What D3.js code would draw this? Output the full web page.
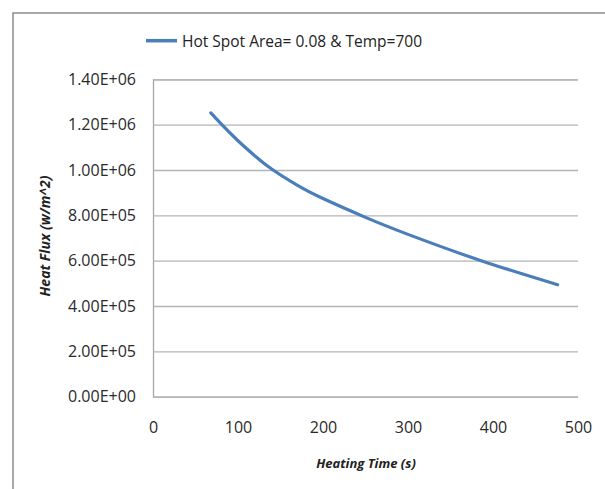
<!DOCTYPE html>
<html>
<head>
<meta charset="utf-8">
<script src="https://cdn.jsdelivr.net/npm/d3@7"></script>
<style>
    body { margin: 0; background: #fff; }
    text { font-family: "Open Sans", sans-serif; fill: #222; }
</style>
</head>
<body>
<svg width="605" height="489"></svg>
<script>
// ------------------DATA------------------
// heating time (s)
var temps = [68, 81, 100, 120, 140, 170, 200, 250, 300, 386, 476];
// heat flux (w/m^2)
var flux = [1.252e6, 1.2e6, 1.129e6, 1.062e6, 1.003e6, 9.32e5, 8.74e5, 7.91e5, 7.16e5, 6.0e5, 4.94e5];
var xTicks = [0, 100, 200, 300, 400, 500];
var yTicks = [0, 2e5, 4e5, 6e5, 8e5, 1e6, 1.2e6, 1.4e6];
var nomSerie = "Hot Spot Area= 0.08 & Temp=700";

// ------------------VARIABLES------------------
var svg = d3.select("svg");
var esquerra = 153, dreta = 578, dalt = 79.3, baix = 396.7;
var blau = "#4a7ebb";

var x = d3.scaleLinear().domain([0, 500]).range([esquerra, dreta]);
var y = d3.scaleLinear().domain([0, 1.4e6]).range([baix, dalt]);

// ------------------FUNCIONS------------------
// outer frame of the chart (only left and top are visible)
function dibuixarMarc() {
    svg.append("rect")
        .attr("x", 13)
        .attr("y", 13)
        .attr("width", 640)
        .attr("height", 520)
        .style("fill", "none")
        .style("stroke", "#8c8c8c")
        .style("stroke-width", 1.5);
}

// horizontal gridlines plus left axis line
function dibuixarEixos() {
    var eixY = d3.axisLeft(y)
        .tickValues(yTicks)
        .tickSize(-(dreta - esquerra))
        .tickPadding(17)
        .tickFormat(function (d) {
            return d.toExponential(2).toUpperCase().replace(/E([+-])(\d)$/, "E$10$2");
        });
    var g = svg.append("g").attr("transform", "translate(" + esquerra + ",0)").call(eixY);
    g.select(".domain").style("stroke", "#a6a6a6").style("stroke-width", 1.3);
    g.selectAll(".tick line").style("stroke", "#b4b4b4").style("stroke-width", 1.3);
    g.selectAll(".tick text")
        .style("font-family", "Open Sans")
        .style("font-size", "16px")
        .style("fill", "#2a2a2a");

    var eixX = d3.axisBottom(x)
        .tickValues(xTicks)
        .tickSize(0)
        .tickPadding(25);
    var gx = svg.append("g").attr("transform", "translate(0," + baix + ")").call(eixX);
    gx.select(".domain").remove();
    gx.selectAll(".tick text")
        .style("font-family", "Open Sans")
        .style("font-size", "16px")
        .style("fill", "#2a2a2a");
}

// the heat flux curve
function dibuixarCorba() {
    var punts = temps.map(function (t, i) { return [t, flux[i]]; });
    var linia = d3.line()
        .x(function (d) { return x(d[0]); })
        .y(function (d) { return y(d[1]); })
        .curve(d3.curveNatural);
    svg.append("path")
        .datum(punts)
        .attr("d", linia)
        .style("fill", "none")
        .style("stroke", blau)
        .style("stroke-width", 3.2)
        .style("stroke-linecap", "round");
}

function dibuixarLlegenda() {
    svg.append("line")
        .attr("x1", 146).attr("x2", 177)
        .attr("y1", 40.7).attr("y2", 40.7)
        .style("stroke", blau)
        .style("stroke-width", 3.5);
    svg.append("text")
        .attr("x", 182)
        .attr("y", 46.5)
        .style("font-size", "15.5px")
        .text(nomSerie);
}

function dibuixarTitols() {
    svg.append("text")
        .attr("x", 366)
        .attr("y", 468)
        .attr("text-anchor", "middle")
        .style("font-size", "13px")
        .style("font-weight", "bold")
        .style("font-style", "italic")
        .text("Heating Time (s)");
    svg.append("text")
        .attr("transform", "translate(50,236) rotate(-90)")
        .attr("text-anchor", "middle")
        .style("font-size", "14px")
        .style("font-weight", "bold")
        .style("font-style", "italic")
        .text("Heat Flux (w/m^2)");
}

// ------------------MAIN------------------
dibuixarMarc();
dibuixarEixos();
dibuixarCorba();
dibuixarLlegenda();
dibuixarTitols();
</script>
</body>
</html>
